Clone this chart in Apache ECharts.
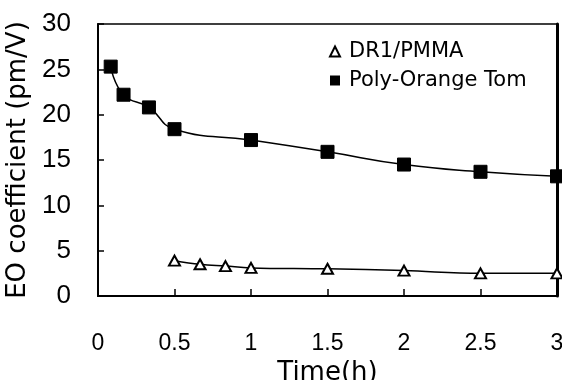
<!DOCTYPE html>
<html>
<head>
<meta charset="utf-8">
<script src="https://cdn.jsdelivr.net/npm/echarts@6/dist/echarts.min.js"></script>
<style>
  html, body { margin: 0; padding: 0; background: #fff; }
  #chart { width: 562px; height: 380px; }
</style>
</head>
<body>
<div id="chart"></div>
<script>
// time in hours
const dr1Time = [0.5, 0.667, 0.833, 1, 1.5, 2, 2.5, 3]
const dr1Eo = [3.9, 3.5, 3.3, 3.1, 3.0, 2.8, 2.5, 2.5]

const potTime = [0.083, 0.167, 0.333, 0.5, 1, 1.5, 2, 2.5, 3]
const potEo = [25.3, 22.2, 20.8, 18.4, 17.2, 15.9, 14.5, 13.7, 13.2]

const seriesNames = ['DR1/PMMA', 'Poly-Orange Tom']

const pairs = (xs, ys) => xs.map((x, i) => [x, ys[i]])

const labelFont = 'Liberation Sans, Arial, sans-serif'
const textFont = 'DejaVu Sans, sans-serif'

const chart = echarts.init(document.getElementById('chart'), null, { renderer: 'canvas' })

chart.setOption({
  animation: false,
  backgroundColor: '#fff',
  grid: {
    left: 98, right: 5, top: 24, bottom: 84,
    outerBoundsMode: 'none',
    show: true, borderColor: '#000', borderWidth: 1.5,
  },
  legend: {
    orient: 'vertical',
    left: 324,
    top: 36,
    itemWidth: 10,
    itemHeight: 10,
    itemGap: 8,
    data: [
      { name: seriesNames[0], icon: 'triangle' },
      { name: seriesNames[1], icon: 'rect' },
    ],
    textStyle: { color: '#000', fontSize: 21, fontFamily: textFont, padding: [0, 0, 0, 4] },
  },
  xAxis: {
    type: 'value',
    min: 0,
    max: 3,
    interval: 0.5,
    name: 'Time(h)',
    nameLocation: 'middle',
    nameGap: 54,
    nameTextStyle: { color: '#000', fontSize: 26, fontFamily: textFont },
    axisLine: { lineStyle: { color: '#000', width: 2 } },
    axisTick: { inside: true, length: 7, lineStyle: { color: '#000', width: 1.5 } },
    axisLabel: { color: '#000', fontSize: 23, fontFamily: labelFont, margin: 36 },
    splitLine: { show: false },
  },
  yAxis: [
    {
      type: 'value',
      min: 0,
      max: 30,
      interval: 5,
      name: 'EO coefficient (pm/V)',
      nameLocation: 'middle',
      nameGap: 66,
      nameTextStyle: { color: '#000', fontSize: 26, fontFamily: textFont },
      axisLine: { lineStyle: { color: '#000', width: 2 } },
      axisTick: { inside: true, length: 6, lineStyle: { color: '#000', width: 1.5 } },
      axisLabel: { color: '#000', fontSize: 26, fontFamily: labelFont, margin: 27 },
      splitLine: { show: false },
    },
    {
      type: 'value',
      position: 'right',
      min: 0,
      max: 30,
      interval: 5,
      axisLine: { show: true, lineStyle: { color: '#000', width: 3 } },
      axisTick: { show: false },
      axisLabel: { show: false },
      splitLine: { show: false },
    },
  ],
  series: [
    {
      name: seriesNames[0],
      type: 'line',
      data: pairs(dr1Time, dr1Eo),
      smooth: 0.4,
      symbol: 'triangle',
      symbolSize: [11, 10],
      lineStyle: { color: '#000', width: 1.5 },
      itemStyle: { color: '#fff', borderColor: '#000', borderWidth: 2 },
      z: 3,
    },
    {
      name: seriesNames[1],
      type: 'line',
      data: pairs(potTime, potEo),
      smooth: 0.5,
      symbol: 'rect',
      symbolSize: 13,
      lineStyle: { color: '#000', width: 1.5 },
      itemStyle: { color: '#000', borderColor: '#000' },
      z: 3,
    },
  ],
})
</script>
</body>
</html>
